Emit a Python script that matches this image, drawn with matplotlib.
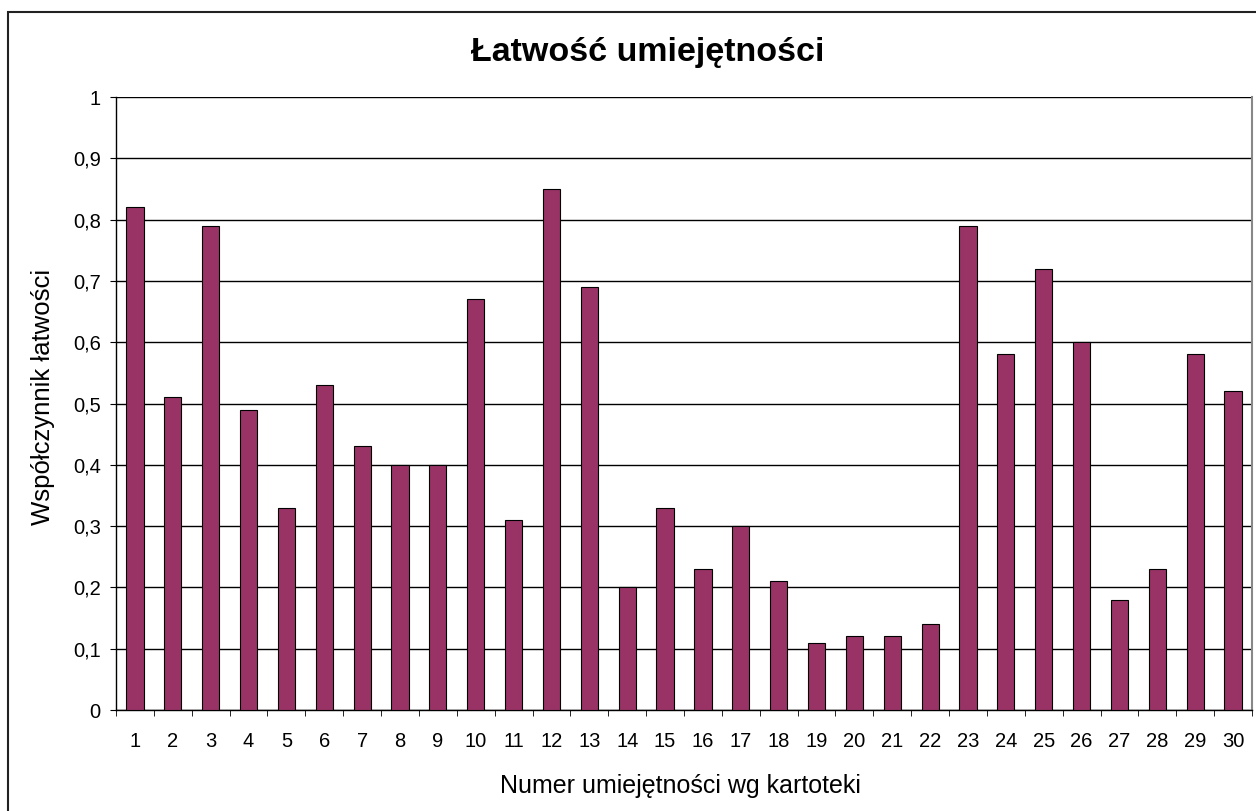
import numpy as np
import matplotlib.pyplot as plt
from matplotlib.patches import Rectangle

plt.rcParams['font.family'] = ['Liberation Sans', 'DejaVu Sans']

# Dane
umiejetnosci = list(range(1, 31))
latwosc = [0.82, 0.51, 0.79, 0.49, 0.33, 0.53, 0.43, 0.40, 0.40, 0.67,
           0.31, 0.85, 0.69, 0.20, 0.33, 0.23, 0.30, 0.21, 0.11, 0.12,
           0.12, 0.14, 0.79, 0.58, 0.72, 0.60, 0.18, 0.23, 0.58, 0.52]
y_ticks = [0, 0.1, 0.2, 0.3, 0.4, 0.5, 0.6, 0.7, 0.8, 0.9, 1]

W, H = 1256, 811
fig = plt.figure(figsize=(W / 100, H / 100), dpi=100)

# ramka wykresu (ucięta z prawej i u dołu)
fig.patches.append(Rectangle((8 / W, -0.05), 1.1, 1 - 12 / H + 0.05,
                             transform=fig.transFigure, fill=False,
                             edgecolor='#222222', linewidth=1.5))

ax = fig.add_axes([116 / W, (H - 710) / H, (1252 - 116) / W, (710 - 97) / H])

ax.bar(umiejetnosci, latwosc, width=0.4545, color='#993366',
       edgecolor='black', linewidth=0.8, zorder=3)

ax.set_xlim(0.5, 30.5)
ax.set_ylim(0, 1)
ax.set_yticks(y_ticks)
ax.set_yticklabels([('%g' % v).replace('.', ',') for v in y_ticks])
ax.yaxis.grid(True, color='black', linewidth=1, zorder=0)

ax.set_xticks(umiejetnosci)
ax.set_xticks(np.arange(0.5, 31, 1), minor=True)
ax.tick_params(axis='x', which='major', length=0, pad=16, labelsize=14.5)
ax.tick_params(axis='x', which='minor', length=4, direction='out', color='black')
ax.tick_params(axis='y', length=4, direction='out', labelsize=14.5, pad=7)

ax.spines['top'].set_visible(False)
ax.spines['right'].set_color('#888888')
ax.spines['right'].set_linewidth(1.5)
ax.spines['left'].set_linewidth(1)
ax.spines['bottom'].set_linewidth(1)

fig.text(648 / W, 1 - 53 / H, 'Łatwość umiejętności', ha='center', va='center',
         fontsize=24.5, fontweight='bold')
fig.text(43 / W, 1 - 397 / H, 'Współczynnik łatwości', ha='center', va='center',
         rotation=90, fontsize=18.5)
fig.text(680 / W, 1 - 786 / H, 'Numer umiejętności wg kartoteki', ha='center',
         va='center', fontsize=18)

fig.savefig('out.png', dpi=100)
